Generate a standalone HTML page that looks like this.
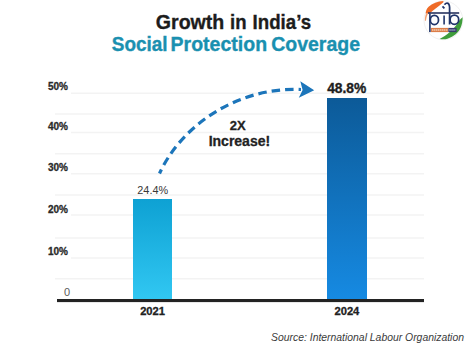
<!DOCTYPE html>
<html><head><meta charset="utf-8">
<style>
html,body{margin:0;padding:0;background:#fff;}
body{width:472px;height:343px;overflow:hidden;position:relative;}
svg{position:absolute;left:0;top:0;}
text{font-family:"Liberation Sans",sans-serif;}
</style></head>
<body>
<svg width="472" height="343" viewBox="0 0 472 343">
<defs>
<linearGradient id="g1" x1="0" y1="0" x2="0" y2="1">
<stop offset="0" stop-color="#0ea1d3"/>
<stop offset="1" stop-color="#31c7f2"/>
</linearGradient>
<linearGradient id="g2" x1="0" y1="0" x2="0" y2="1">
<stop offset="0" stop-color="#0c5a98"/>
<stop offset="1" stop-color="#168ae2"/>
</linearGradient>
</defs>
<!-- gridlines -->
<g stroke="#f3f3f3" stroke-width="1.5">
<line x1="71" y1="93.3" x2="424" y2="93.3"/>
<line x1="55" y1="113.9" x2="424" y2="113.9"/>
<line x1="71" y1="132.6" x2="424" y2="132.6"/>
<line x1="55" y1="153.8" x2="424" y2="153.8"/>
<line x1="71" y1="173.8" x2="424" y2="173.8"/>
<line x1="55" y1="195.1" x2="424" y2="195.1"/>
<line x1="71" y1="215.1" x2="424" y2="215.1"/>
<line x1="55" y1="237.9" x2="424" y2="237.9"/>
<line x1="71" y1="258" x2="424" y2="258"/>
<line x1="55" y1="278.8" x2="424" y2="278.8"/>
</g>
<!-- bars -->
<rect x="133" y="199" width="39" height="100" fill="url(#g1)"/>
<rect x="327" y="98" width="40" height="201" fill="url(#g2)"/>
<!-- axis -->
<rect x="57" y="299" width="367" height="3.1" fill="#232323"/>
<!-- titles -->
<g font-weight="bold" font-size="19.8" lengthAdjust="spacingAndGlyphs">
<g fill="#1c1c1c" stroke="#1c1c1c" stroke-width="0.35">
<text x="155.8" y="28.6" textLength="68.5" lengthAdjust="spacingAndGlyphs">Growth</text>
<text x="230" y="28.6" textLength="16.5" lengthAdjust="spacingAndGlyphs">in</text>
<text x="252.6" y="28.6" textLength="58.5" lengthAdjust="spacingAndGlyphs">India’s</text>
</g>
<g fill="#1a90b0" stroke="#1a90b0" stroke-width="0.35">
<text x="111.8" y="51.4" textLength="55.8" lengthAdjust="spacingAndGlyphs">Social</text>
<text x="170.6" y="51.4" textLength="96.5" lengthAdjust="spacingAndGlyphs">Protection</text>
<text x="271.2" y="51.4" textLength="88.8" lengthAdjust="spacingAndGlyphs">Coverage</text>
</g>
</g>
<!-- y labels -->
<g font-weight="bold" font-size="10" fill="#2a2a2a" stroke="#2a2a2a" stroke-width="0.3">
<text x="48" y="89.9">50%</text>
<text x="48" y="130.1">40%</text>
<text x="48" y="171.2">30%</text>
<text x="48" y="213.1">20%</text>
<text x="48" y="254.9">10%</text>
</g>
<text x="64" y="295.7" font-size="11" fill="#5a5a5a">0</text>
<!-- value labels -->
<text x="137.3" y="193.8" font-size="11.8" textLength="30.8" lengthAdjust="spacingAndGlyphs" fill="#383838">24.4%</text>
<text x="346.7" y="93" text-anchor="middle" font-weight="bold" font-size="13.8" fill="#1e1e1e" stroke="#1e1e1e" stroke-width="0.35">48.8%</text>
<!-- increase -->
<text x="237.7" y="129.5" text-anchor="middle" font-weight="bold" font-size="13" fill="#222" stroke="#222" stroke-width="0.3">2X</text>
<text x="239.4" y="146.4" text-anchor="middle" font-weight="bold" font-size="14" fill="#222" stroke="#222" stroke-width="0.3">Increase!</text>
<!-- arrow -->
<path d="M301,89.5 C234.7,87 180.6,127.2 159.5,173.5" fill="none" stroke="#1c75ba" stroke-width="3.2" stroke-dasharray="8.5 5.02" stroke-dashoffset="6.13"/>
<path d="M314.2,90.3 L300.3,81.2 L302.6,89.9 L298.8,97.8 Z" fill="#1c75ba"/>
<!-- x labels -->
<g font-weight="bold" font-size="11.2" fill="#222" text-anchor="middle" stroke="#222" stroke-width="0.3">
<text x="152.6" y="315.3">2021</text>
<text x="346.9" y="315.3">2024</text>
</g>
<text x="464" y="340.6" text-anchor="end" font-style="italic" font-size="10.4" fill="#3a3a3a">Source: International Labour Organization</text>
<!-- logo -->
<g>
<circle cx="443.4" cy="20.3" r="19.4" fill="#fefefe" stroke="#ececec" stroke-width="0.8"/>
<path d="M443.4,0.9 C438,1.2 432.2,3.3 428.6,6.8 C426.6,8.8 425.8,11 425.7,13.6 L429.8,13.4 C431.5,11.8 433.3,10.4 435,9.1 C437.8,7 440.6,4.4 443.4,2.2 Z" fill="#ef6b27"/><path d="M426.4,13 C425.2,15.5 424.8,18 424.9,21 L426,20.5 C426.2,18 426.9,15.5 428.3,13.2 Z" fill="#f2a173"/>
<path d="M462.6,17.2 C462.6,21 462,24.5 460.6,27.8 C458.5,32.5 454,36.6 447.5,38.7 C445,39.4 442.5,39.4 439.6,38.9 C443,37.3 446.5,35 449.5,32.3 C453,29.3 456.3,25.5 458.8,21.2 C460,19.5 461.2,18.2 462.6,17.2 Z" fill="#3f9d3b"/>
<rect x="428" y="12.2" width="31.2" height="1.6" fill="#29335f"/>
<g fill="none" stroke="#1f3368" stroke-width="1.75">
<ellipse cx="434.4" cy="19.9" rx="4.1" ry="4.6"/>
<ellipse cx="454.4" cy="19.7" rx="4.3" ry="4.6"/>
<path d="M449.6,24.5 L449.6,7.5 Q449.4,3 447,3 Q445.2,3.2 444.6,4.8"/>
<path d="M442.5,6.3 L444.4,8.4"/>
</g>
<rect x="429.1" y="13.5" width="1.6" height="18.6" fill="#1f3368"/>
<rect x="443.3" y="15.5" width="1.6" height="9" fill="#1f3368"/>
<rect x="431" y="27.9" width="17.3" height="4.2" fill="#dc7d48"/>
<rect x="448.3" y="27.9" width="8.3" height="4.2" fill="#363c6b"/>
<line x1="432" y1="30" x2="447.5" y2="30" stroke="#f1c9ad" stroke-width="1.6" stroke-dasharray="1.5 0.5"/>
<line x1="449.3" y1="30" x2="455.6" y2="30" stroke="#9da2c0" stroke-width="1.6" stroke-dasharray="1.5 0.5"/>
</g>
</svg>
</body></html>
